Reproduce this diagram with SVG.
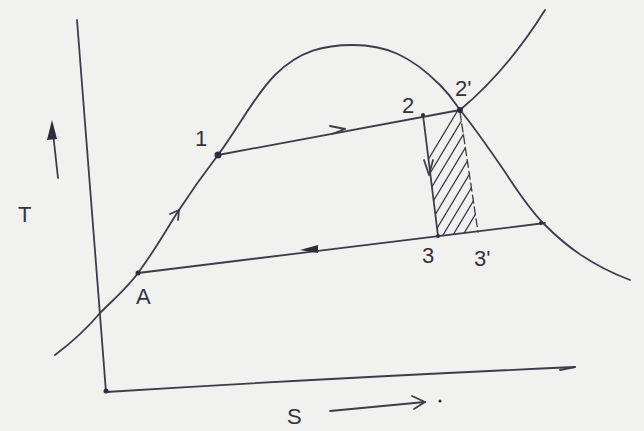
<svg xmlns="http://www.w3.org/2000/svg" width="644" height="431" viewBox="0 0 644 431">
<style>
.ln{fill:none;stroke:#3c3c4a;stroke-width:1.8;stroke-linecap:round;stroke-linejoin:round}
.th{fill:none;stroke:#3c3c4a;stroke-width:1.3;stroke-linecap:round}
.lbl{font-family:"Liberation Sans",Arial,sans-serif;fill:#33333f;font-size:22px}
.dot{fill:#2c2c3a}
</style>
<defs>
<clipPath id="hclip"><polygon points="423,115 460,110 478,232 438,236"/></clipPath>
</defs>
<rect width="644" height="431" fill="#f1f1ef"/>
<g id="axes">
<path class="ln" d="M77,20 L106,392"/>
<path class="ln" d="M106,392 Q330,378 575,367"/>
<circle class="dot" cx="106" cy="391" r="2.5"/>
<path class="ln" d="M560,370 L575,367"/>
</g>
<g id="dome">
<path class="ln" d="M55,355 C75,340 90,325 100,313 C115,298 128,287 138,273 C155,250 165,232 177,213 C192,190 205,172 218,155 C240,125 255,95 275,75 C300,50 325,45 353,45 C385,45 410,55 440,85 C452,97 456,105 460,110 C475,128 490,150 505,172 C520,195 532,212 545,225 C565,245 590,265 630,280"/>
<path class="ln" d="M460,110 C490,85 520,50 545,10"/>
</g>
<g id="connectors">
<path class="ln" d="M218,155 L460,110"/>
<path class="ln" d="M138,273 L545,223"/>
<path class="ln" d="M423,115 L438,236"/>
<path class="th" d="M460,112 L478,232" stroke-dasharray="8,4"/>
<g clip-path="url(#hclip)">
<path class="th" d="M380,240 L464,100 M390,240 L474,100 M400,240 L484,100 M410,240 L494,100 M420,240 L504,100 M430,240 L514,100 M440,240 L524,100 M450,240 L534,100 M460,240 L544,100"/>
</g>
<path class="ln" d="M330,126 L345,129 L332,134"/>
<path class="ln" d="M170,214 L179,210 L178,220"/>
<path class="dot" d="M300,250 L318,245 L318,253 Z"/>
<path class="ln" d="M424,160 L429,175 L433,160"/>
</g>
<g id="points">
<circle class="dot" cx="218" cy="155" r="3.5"/>
<circle class="dot" cx="138" cy="273" r="2.5"/>
<circle class="dot" cx="423" cy="115" r="2"/>
<circle class="dot" cx="460" cy="110" r="3"/>
<circle class="dot" cx="438" cy="236" r="2"/>
<circle class="dot" cx="541" cy="223" r="2"/>
</g>
<g id="labels">
<text class="lbl" x="195" y="146">1</text>
<text class="lbl" x="402" y="113">2</text>
<text class="lbl" x="455" y="96">2'</text>
<text class="lbl" x="422" y="263">3</text>
<text class="lbl" x="474" y="266">3'</text>
<text class="lbl" x="136" y="304">A</text>
<text class="lbl" x="18" y="222">T</text>
<text class="lbl" x="287" y="424">S</text>
</g>
<g id="arrows">
<path class="ln" d="M58,178 L52,124"/>
<path class="dot" d="M52,120 L47,140 L57,139 Z"/>
<path class="ln" d="M330,411 L425,402"/>
<path class="ln" d="M412,396 L425,402 L414,409"/>
<circle class="dot" cx="440" cy="401" r="1.5"/>
</g>
</svg>
